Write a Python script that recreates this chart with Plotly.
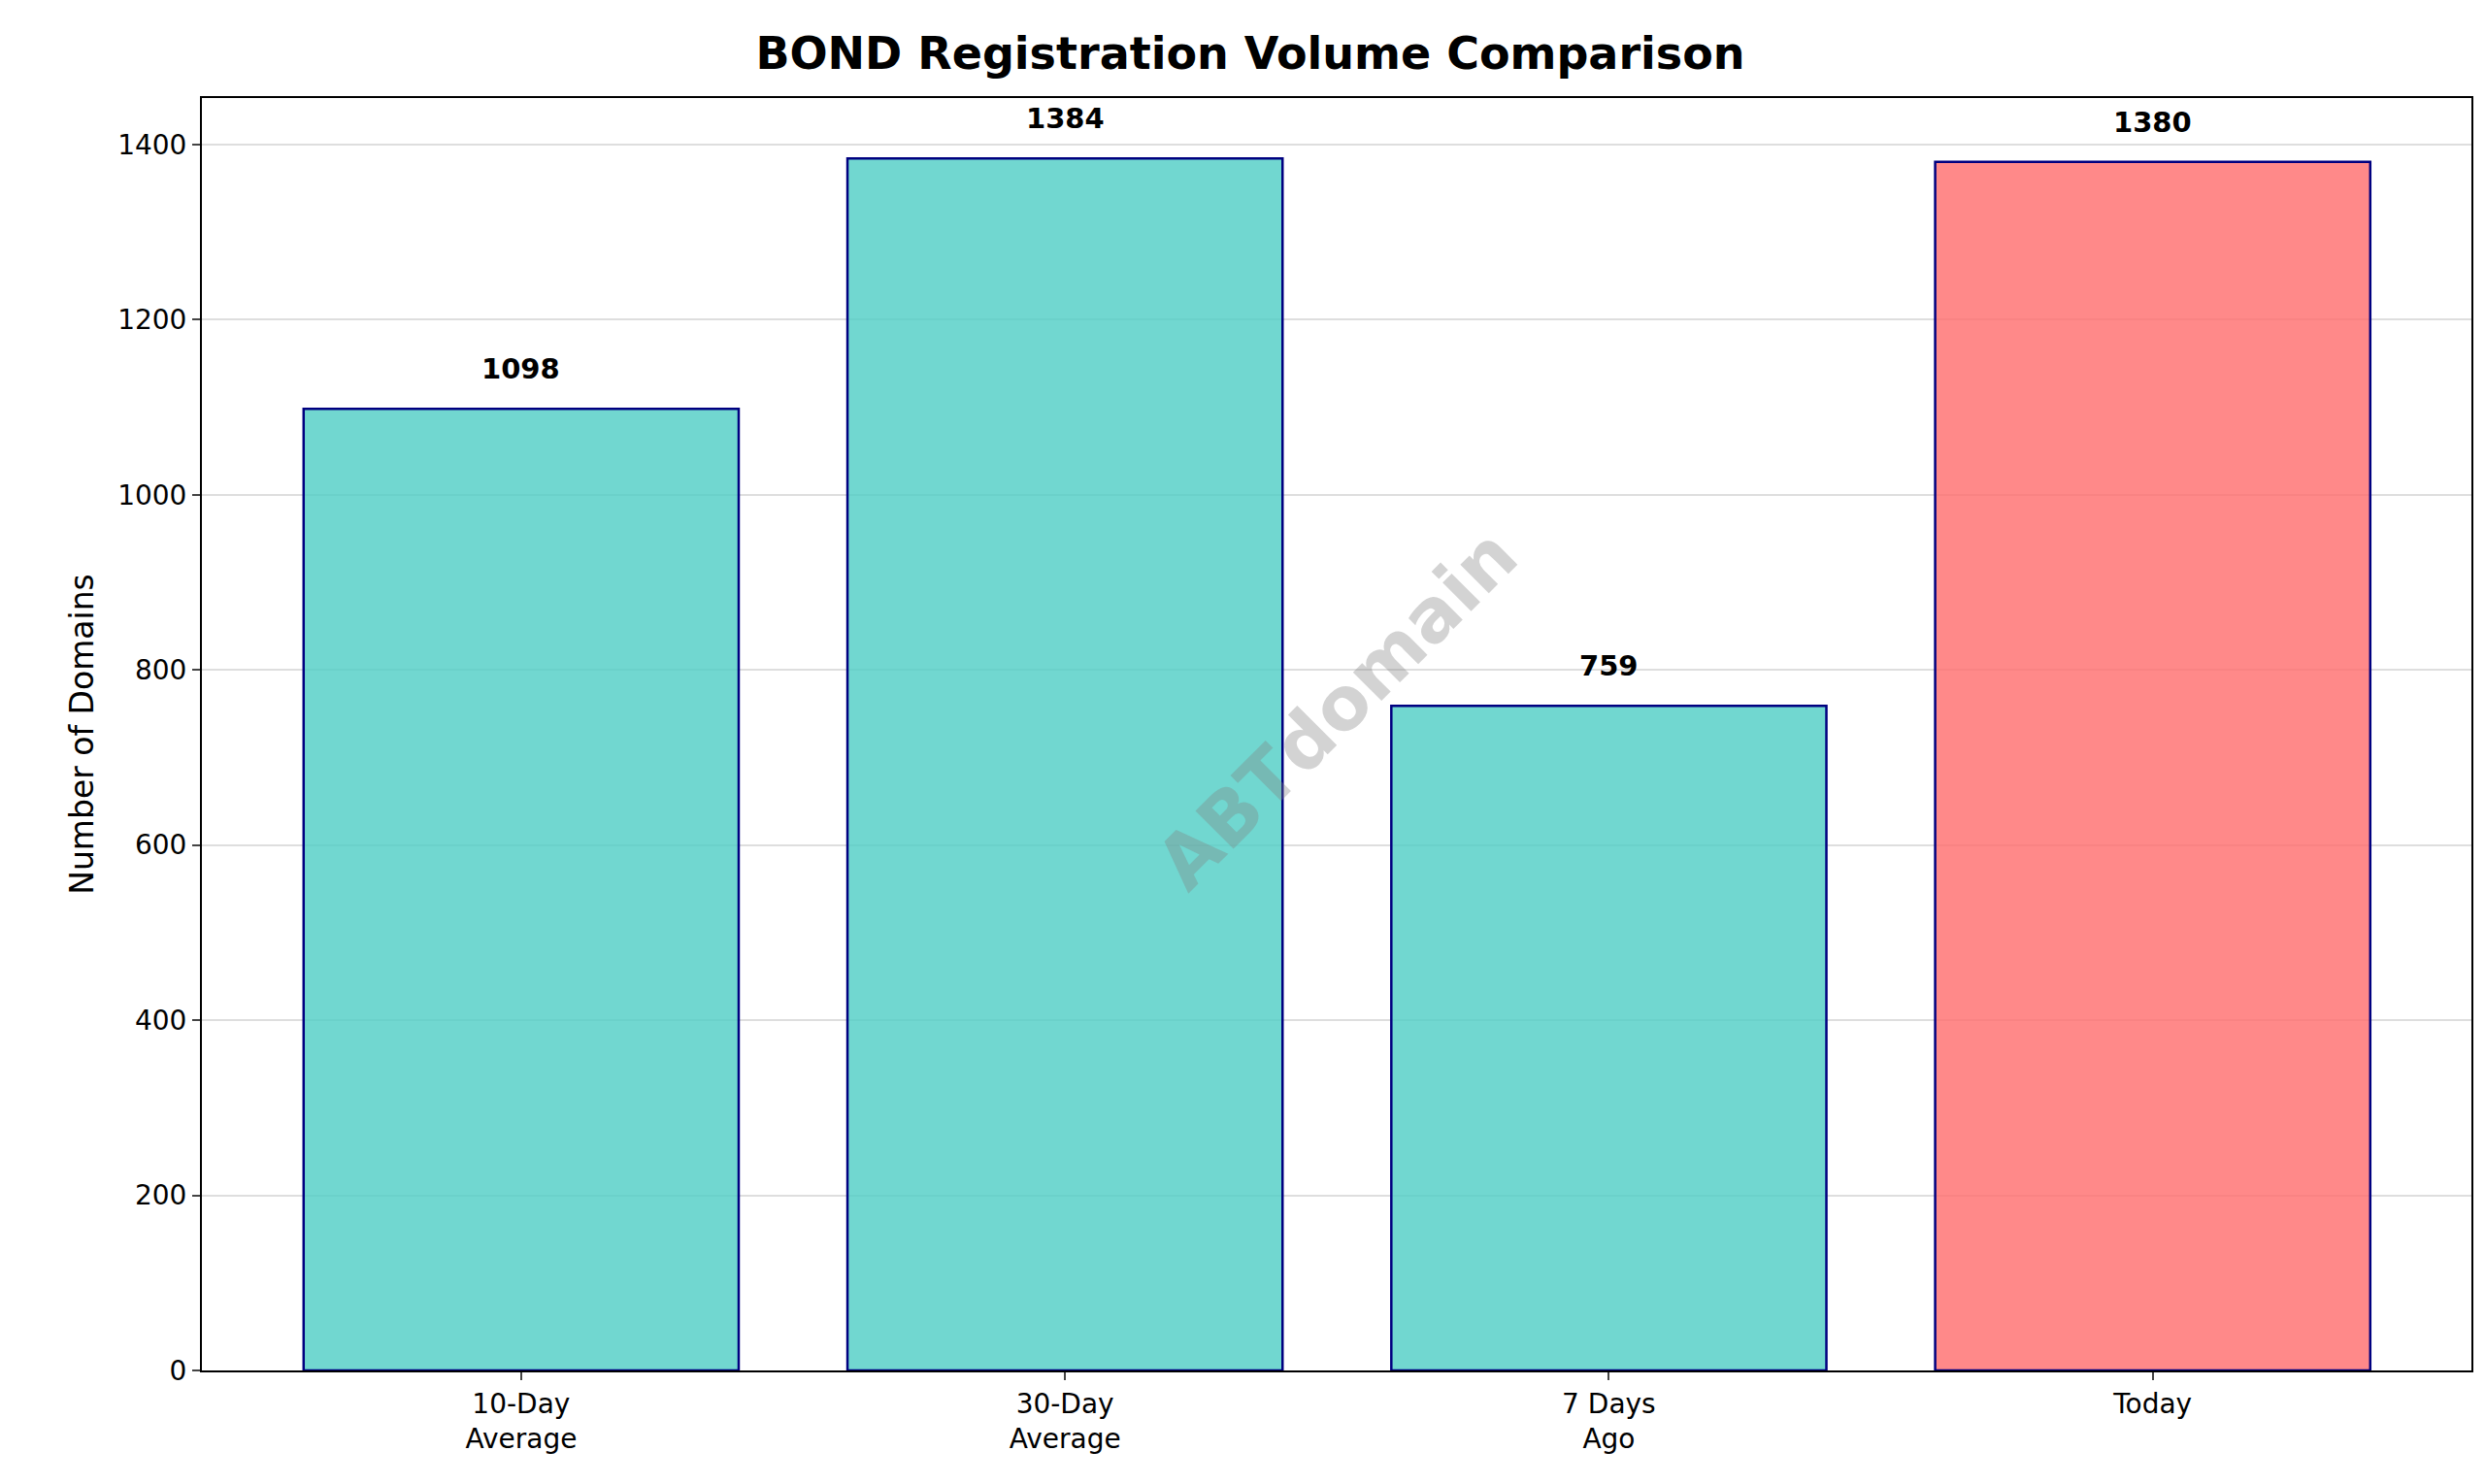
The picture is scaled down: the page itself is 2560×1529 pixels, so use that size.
import plotly.graph_objects as go

categories = ["10-Day<br>Average", "30-Day<br>Average", "7 Days<br>Ago", "Today"]
values = [1098, 1384, 759, 1380]
colors = ["rgba(78,205,196,0.8)", "rgba(78,205,196,0.8)", "rgba(78,205,196,0.8)", "rgba(255,107,107,0.8)"]

positions = list(range(len(categories)))

fig = go.Figure()
fig.add_trace(go.Bar(
    x=positions, y=values, width=0.8,
    marker=dict(color=colors, line=dict(color="navy", width=2.5)),
))

# value labels sit a bit above each bar
for p, v in zip(positions, values):
    fig.add_annotation(x=p, y=v, text=f"<b>{v}</b>", showarrow=False, yanchor="bottom",
                       yshift=22, font=dict(size=29, color="black"))

fig.add_annotation(text="<b>ABTdomain</b>", x=0.5, y=0.52, xref="paper", yref="paper",
                   showarrow=False, textangle=-45, font=dict(size=76, color="rgba(128,128,128,0.35)"))

fig.update_layout(
    width=2560, height=1529, plot_bgcolor="white", paper_bgcolor="white",
    font=dict(family="DejaVu Sans", size=28, color="black"),
    title=dict(text="<b>BOND Registration Volume Comparison</b>", x=0.5, xanchor="center",
               y=0.98, font=dict(size=46)),
    margin=dict(l=200, r=22, t=93, b=125),
    showlegend=False,
    xaxis=dict(range=[-0.587, 3.586], tickvals=positions, ticktext=categories,
               showline=True, linecolor="black", linewidth=2, mirror=True, ticks="outside",
               ticklen=8, tickwidth=2, showgrid=False),
    yaxis=dict(title=dict(text="Number of Domains", font=dict(size=33)), range=[0, 1453],
               dtick=200, showline=True, linecolor="black", linewidth=2, mirror=True,
               ticks="outside", ticklen=8, tickwidth=2, showgrid=True,
               gridcolor="rgba(200,200,200,0.6)", gridwidth=1.5, zeroline=False),
)

fig.write_html("out.html")
